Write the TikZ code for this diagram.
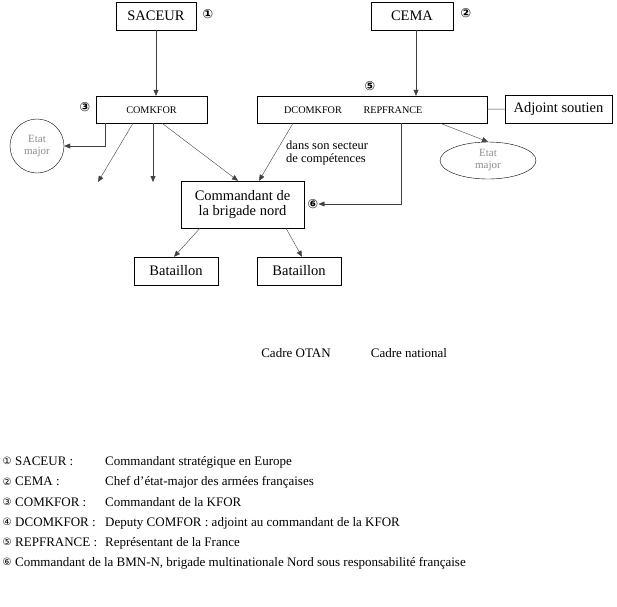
\documentclass[tikz,border=0pt]{standalone}
\usepackage{fontspec}
\setmainfont{Liberation Serif}
\newfontfamily\symbfont{DejaVu Sans}
\usetikzlibrary{arrows.meta,shapes.geometric}

\tikzset{
  box/.style={draw, minimum height=28pt, inner sep=2pt, font=\fontsize{14.5}{15.5}\selectfont},
  smalltext/.style={inner sep=0pt, font=\fontsize{10.2}{11}\selectfont},
  link/.style={draw=black!75, -{Triangle[length=6pt,width=5pt]}},
  plainlink/.style={draw=black!75},
  badge/.style={inner sep=0pt, font=\symbfont\fontsize{12.5}{12}\selectfont\bfseries},
  legendnum/.style={inner sep=0pt, font=\symbfont\fontsize{10}{10}\selectfont},
  legend/.style={anchor=base west, inner sep=0pt, font=\fontsize{13}{14}\selectfont},
  staff/.style={draw, text=black!45, align=center, inner sep=1pt, font=\fontsize{11}{12}\selectfont}
}

\begin{document}
\begin{tikzpicture}[x=1pt, y=-1pt]
\useasboundingbox (0,0) rectangle (617,606);
% top level
\node[box, minimum width=80pt] (saceur) at (156,16) {SACEUR};
\node[box, minimum width=82pt] (cema) at (412,16) {CEMA};
\node[badge] (b1) at (208,14) {①};
\node[badge] (b2) at (466,13) {②};
% KFOR level
\node[box, minimum width=111pt, minimum height=27pt] (comkfor) at (151.5,109.5) {};
\node[smalltext] (comkforlabel) at (151.5,110) {COMKFOR};
\node[badge] (b3) at (85,107) {③};
\node[box, minimum width=230pt, minimum height=27pt] (natbox) at (372,109.5) {};
\node[smalltext] (dcomkfor) at (313,110) {DCOMKFOR};
\node[smalltext] (repfrance) at (393,110) {REPFRANCE};
\node[badge] (b5) at (370,86) {⑤};
\node[box, minimum width=107pt] (adjoint) at (558.5,109) {Adjoint soutien};
\node[staff, circle, minimum size=54pt] (etat1) at (37,146) {Etat\\major};
\node[staff, ellipse, minimum width=96pt, minimum height=37pt] (etat2) at (488,160.5) {Etat\\major};
% brigade level
\node[box, minimum width=123pt, minimum height=47pt, align=center] (brigade) at (242.5,204.5) {Commandant de\\la brigade nord};
\node[badge] (b6) at (313,204) {⑥};
\node[box, minimum width=84pt] (bat1) at (176,271) {Bataillon};
\node[box, minimum width=84pt] (bat2) at (299,271) {Bataillon};
\coordinate (free1) at (98,182);
\coordinate (free2) at (153,182);
\node[inner sep=0pt, align=left, anchor=north west, font=\fontsize{12.5}{12.5}\selectfont] (secteur) at (286,141) {dans son secteur\\de compétences};
% connectors
\draw[link] (saceur) -- (saceur |- comkfor.north);
\draw[link] (cema.south -| 416,0) -- (natbox.north -| 416,0);
\draw[plainlink] (natbox) -- (adjoint);
\draw[link] (comkfor.south -| 105,0) |- (etat1.east);
\draw[link] (comkfor.south -| 133,0) -- (free1);
\draw[link] (comkfor.south -| 153,0) -- (free2);
\draw[link] (comkfor.south -| 162,0) -- (brigade.north -| 238,0);
\draw[link] (natbox.south -| 293,0) -- (brigade.north -| 259,0);
\draw[link] (natbox.south -| 401,0) |- (b6.east);
\draw[link] (natbox.south -| 440,0) -- (etat2.north);
\draw[link] (brigade.south -| 200,0) -- (bat1.north -| 174,0);
\draw[link] (brigade.south -| 286,0) -- (bat2.north -| 302,0);
% frames
\node[inner sep=0pt, font=\fontsize{13}{14}\selectfont] (otan) at (296,353) {Cadre OTAN};
\node[inner sep=0pt, font=\fontsize{13}{14}\selectfont] (national) at (409,353) {Cadre national};
% legend
\foreach \num/\abbr/\desc [count=\i] in {①/SACEUR :/Commandant stratégique en Europe,
  ②/CEMA :/Chef d’état-major des armées françaises,
  ③/COMKFOR :/Commandant de la KFOR,
  ④/DCOMKFOR :/Deputy COMFOR : adjoint au commandant de la KFOR,
  ⑤/REPFRANCE :/Représentant de la France} {
  \node[legendnum] (n\i) at (7,{441+20.2*\i}) {\num};
  \node[legend] (a\i) at (15,{445.5+20.2*\i}) {\abbr};
  \node[legend] (d\i) at (105,{445.5+20.2*\i}) {\desc};
}
\node[legendnum] (n6) at (7,562) {⑥};
\node[legend] (a6) at (15,566.5) {Commandant de la BMN-N, brigade multinationale Nord sous responsabilité française};
\end{tikzpicture}
\end{document}
